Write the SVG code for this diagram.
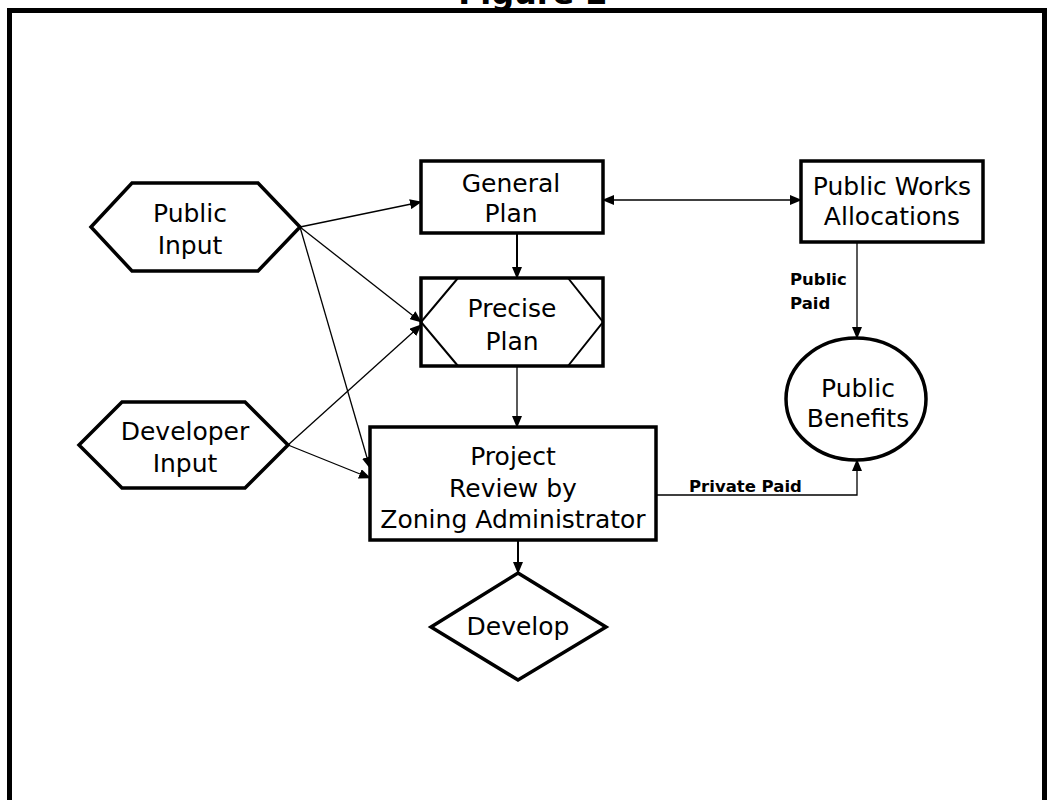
<svg xmlns="http://www.w3.org/2000/svg" width="1047" height="800" viewBox="0 0 1047 800">
  <style>
    .frame { fill: none; stroke: #000; stroke-width: 5; }
    .shape { fill: #fff; stroke: #000; stroke-width: 3.5; }
    .inner { fill: none; stroke: #000; stroke-width: 2; }
    .lbl { font-family: "DejaVu Sans", Verdana, sans-serif; font-size: 25px; fill: #000; text-anchor: middle; }
    .small { font-family: "DejaVu Sans", Verdana, sans-serif; font-size: 16.5px; font-weight: bold; fill: #000; }
    .title { font-family: "DejaVu Sans", Verdana, sans-serif; font-size: 32px; font-weight: bold; fill: #000; text-anchor: middle; }
    .thin { fill: none; stroke: #000; stroke-width: 1.3; }
    .med { fill: none; stroke: #000; stroke-width: 2; }
  </style>
  <defs>
    <marker id="arrow" markerUnits="userSpaceOnUse" markerWidth="12" markerHeight="10" refX="11" refY="5" orient="auto-start-reverse">
      <path d="M0,0 L12,5 L0,10 Z" fill="#000"/>
    </marker>
  </defs>

  <rect width="1047" height="800" fill="#fff"/>

  <!-- caption above the frame -->
  <text class="title" x="533" y="4">Figure 2</text>

  <!-- outer frame -->
  <rect class="frame" x="9.5" y="10.5" width="1035" height="820"/>

  <!-- connectors -->
  <g id="connectors">
    <!-- Public Input fan-out -->
    <line class="thin" x1="300" y1="227" x2="421" y2="202" marker-end="url(#arrow)"/>
    <line class="thin" x1="300" y1="227" x2="421" y2="322" marker-end="url(#arrow)"/>
    <line class="thin" x1="300" y1="227" x2="370" y2="468" marker-end="url(#arrow)"/>
    <!-- Developer Input fan-out -->
    <line class="thin" x1="288" y1="445" x2="421" y2="325" marker-end="url(#arrow)"/>
    <line class="thin" x1="288" y1="445" x2="370" y2="478" marker-end="url(#arrow)"/>
    <!-- main vertical chain -->
    <line class="med" x1="517" y1="233" x2="517" y2="278" marker-end="url(#arrow)"/>
    <line class="thin" x1="517" y1="367" x2="517" y2="427" marker-end="url(#arrow)"/>
    <line class="med" x1="518" y1="540" x2="518" y2="573" marker-end="url(#arrow)"/>
    <!-- General Plan <-> Public Works Allocations -->
    <line class="thin" x1="603" y1="200" x2="801" y2="200" marker-start="url(#arrow)" marker-end="url(#arrow)"/>
    <!-- Public Paid -->
    <line class="thin" x1="857" y1="242" x2="857" y2="338" marker-end="url(#arrow)"/>
    <text class="small" x="790" y="285">Public</text>
    <text class="small" x="790" y="309">Paid</text>
    <!-- Private Paid -->
    <polyline class="thin" points="656,495 857,495 857,460" marker-end="url(#arrow)"/>
    <text class="small" x="689" y="492">Private Paid</text>
  </g>

  <g id="public-input">
    <polygon class="shape" points="91,227 132,183 258,183 300,227 258,271 132,271"/>
    <text class="lbl" x="190" y="222">Public</text>
    <text class="lbl" x="190" y="254">Input</text>
  </g>

  <g id="developer-input">
    <polygon class="shape" points="79,445 122,402 245,402 288,445 245,488 122,488"/>
    <text class="lbl" x="185" y="440">Developer</text>
    <text class="lbl" x="185" y="472">Input</text>
  </g>

  <g id="general-plan">
    <rect class="shape" x="421" y="161" width="182" height="72"/>
    <text class="lbl" x="511" y="192">General</text>
    <text class="lbl" x="511" y="222">Plan</text>
  </g>

  <g id="precise-plan">
    <rect class="shape" x="421" y="278" width="182" height="88"/>
    <polyline class="inner" points="458,278 421,322 458,366"/>
    <polyline class="inner" points="568,278 603,322 568,366"/>
    <text class="lbl" x="512" y="317">Precise</text>
    <text class="lbl" x="512" y="350">Plan</text>
  </g>

  <g id="public-works">
    <rect class="shape" x="801" y="161" width="182" height="81"/>
    <text class="lbl" x="892" y="195">Public Works</text>
    <text class="lbl" x="892" y="225">Allocations</text>
  </g>

  <g id="public-benefits">
    <ellipse class="shape" cx="856" cy="399" rx="70" ry="61"/>
    <text class="lbl" x="858" y="397">Public</text>
    <text class="lbl" x="858" y="427">Benefits</text>
  </g>

  <g id="project-review">
    <rect class="shape" x="370" y="427" width="286" height="113"/>
    <text class="lbl" x="513" y="465">Project</text>
    <text class="lbl" x="513" y="497">Review by</text>
    <text class="lbl" x="513" y="528">Zoning Administrator</text>
  </g>

  <g id="develop">
    <polygon class="shape" points="518,573 606,627 518,680 431,627"/>
    <text class="lbl" x="518" y="635">Develop</text>
  </g>
</svg>
